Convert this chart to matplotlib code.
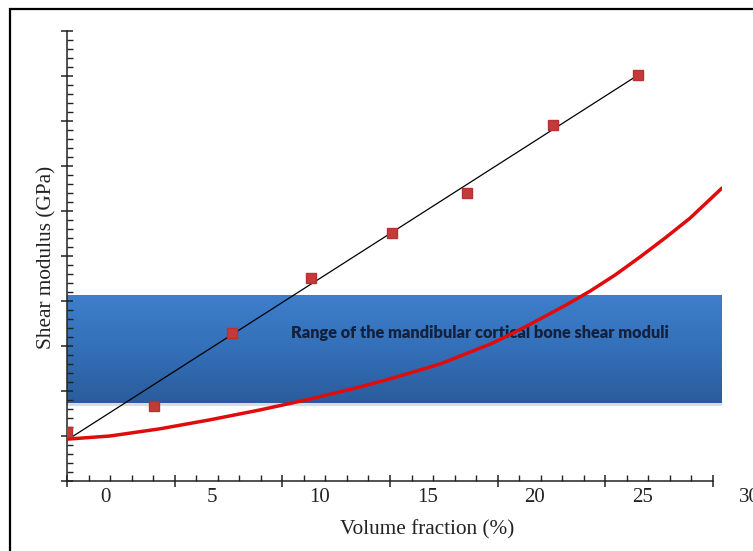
import numpy as np
import matplotlib
matplotlib.use("Agg")
import matplotlib.pyplot as plt
import matplotlib.transforms as mtransforms
from matplotlib.patches import Rectangle
from matplotlib.colors import LinearSegmentedColormap

# ---- data ----
sq_x = [-1.77, 2.28, 5.91, 9.59, 13.36, 16.85, 20.86, 24.81]
sq_y = [1.09, 1.67, 3.29, 4.51, 5.51, 6.40, 7.91, 9.02]

fit_x = [-1.77, 24.81]
fit_y = [0.91, 9.02]

curve_x = [-1.77, 0.23, 2.56, 4.89, 7.22, 9.54, 11.87, 13.27, 15.60,
           17.92, 19.09, 20.25, 21.42, 22.58, 23.75, 24.91, 26.07, 27.23, 28.72]
curve_y = [0.93, 1.00, 1.16, 1.36, 1.58, 1.82, 2.09, 2.27, 2.60,
           3.04, 3.31, 3.60, 3.90, 4.22, 4.58, 4.98, 5.40, 5.84, 6.51]

band_low, band_high = 1.73, 4.13
band_text = "Range of the mandibular cortical bone shear moduli"
band_text_x, band_text_y = 17.46, 3.29

xtick_labels = ["0", "5", "10", "15", "20", "25", "30"]
xtick_label_pos = [0, 5, 10, 15, 20, 25, 30]

xlabel = "Volume fraction (%)"
ylabel = "Shear modulus (GPa)"

# ---- figure ----
W, H = 753, 551
fig = plt.figure(figsize=(W / 100, H / 100), dpi=100)
fig.patch.set_facecolor("white")

x_min, x_axis_end, x_max = -1.77, 28.3, 28.72
y_min, y_max = 0.0, 10.0

left_px, right_px = 67, 722
bot_px, top_px = 481, 31
ax = fig.add_axes([left_px / W, 1 - bot_px / H,
                   (right_px - left_px) / W, (bot_px - top_px) / H])

# band with vertical gradient
grad = np.linspace(0, 1, 256).reshape(-1, 1)
cmap = LinearSegmentedColormap.from_list("band", ["#3e7ecb", "#3370b8", "#2a5c9c"])
ax.add_patch(Rectangle((x_min, band_low - 0.06), x_max - x_min, 0.06,
                       facecolor="#d9dde3", edgecolor="none", zorder=0.5))
ax.imshow(grad, extent=[x_min, x_max, band_low, band_high], aspect="auto",
          cmap=cmap, origin="upper", zorder=1, interpolation="bilinear")
ax.set_xlim(x_min, x_max)
ax.set_ylim(y_min, y_max)

ax.text(band_text_x, band_text_y, band_text, fontfamily="Lato",
        fontweight="heavy", fontsize=11.8, color="#13213f", ha="center",
        va="center", zorder=2)

ax.plot(fit_x, fit_y, color="black", lw=0.9, zorder=3)
ax.plot(curve_x, curve_y, color="#e00b0b", lw=2.5, zorder=4,
        solid_capstyle="round", solid_joinstyle="round")
ax.plot(sq_x, sq_y, ls="none", marker="s", markersize=7.2,
        markerfacecolor="#c23a3a", markeredgecolor="#b83030", zorder=5)

# spines
for s in ["top", "right"]:
    ax.spines[s].set_visible(False)
ax.spines["bottom"].set_bounds(x_min, x_axis_end)
ax.spines["left"].set_bounds(y_min, y_max)
for s in ["bottom", "left"]:
    ax.spines[s].set_linewidth(1.1)
    ax.spines[s].set_color("#222222")

major_x = np.linspace(x_min, x_axis_end, 7)
minor_x = np.linspace(x_min, x_axis_end, 31)
ax.set_xticks(major_x)
ax.set_xticks(minor_x, minor=True)
ax.set_xticklabels([])
ax.set_yticks(np.arange(0, 11, 1))
ax.set_yticks(np.arange(0, 10.01, 0.2), minor=True)
ax.set_yticklabels([])
ax.tick_params(which="major", direction="inout", length=9, width=1.1, color="#222222")
ax.tick_params(which="minor", direction="in", length=4, width=1.0, color="#222222")

# x tick labels (offset from the tick marks as in the reference)
trans = mtransforms.offset_copy(ax.get_xaxis_transform(), fig=fig, x=0, y=-16.5, units="dots")
for v, lab in zip(xtick_label_pos, xtick_labels):
    ax.text(v, 0, lab, transform=trans, ha="center", va="center",
            fontfamily="Liberation Serif", fontsize=15, color="#222222",
            clip_on=False)

fig.text(427 / W, 1 - 530 / H, xlabel, ha="center", va="center",
         fontfamily="Liberation Serif", fontsize=15.3, color="#222222")
fig.text(47 / W, 1 - 257 / H, ylabel, ha="center", va="center", rotation=90,
         fontfamily="Liberation Serif", fontsize=15.3, color="#222222")

# figure frame (only top/left visible in the crop)
fig.patches.append(Rectangle((10 / W, -0.2), 1.5, 1.2 - 9 / H,
                             transform=fig.transFigure, fill=False,
                             edgecolor="black", linewidth=1.6))

fig.savefig("out.png", dpi=100)
